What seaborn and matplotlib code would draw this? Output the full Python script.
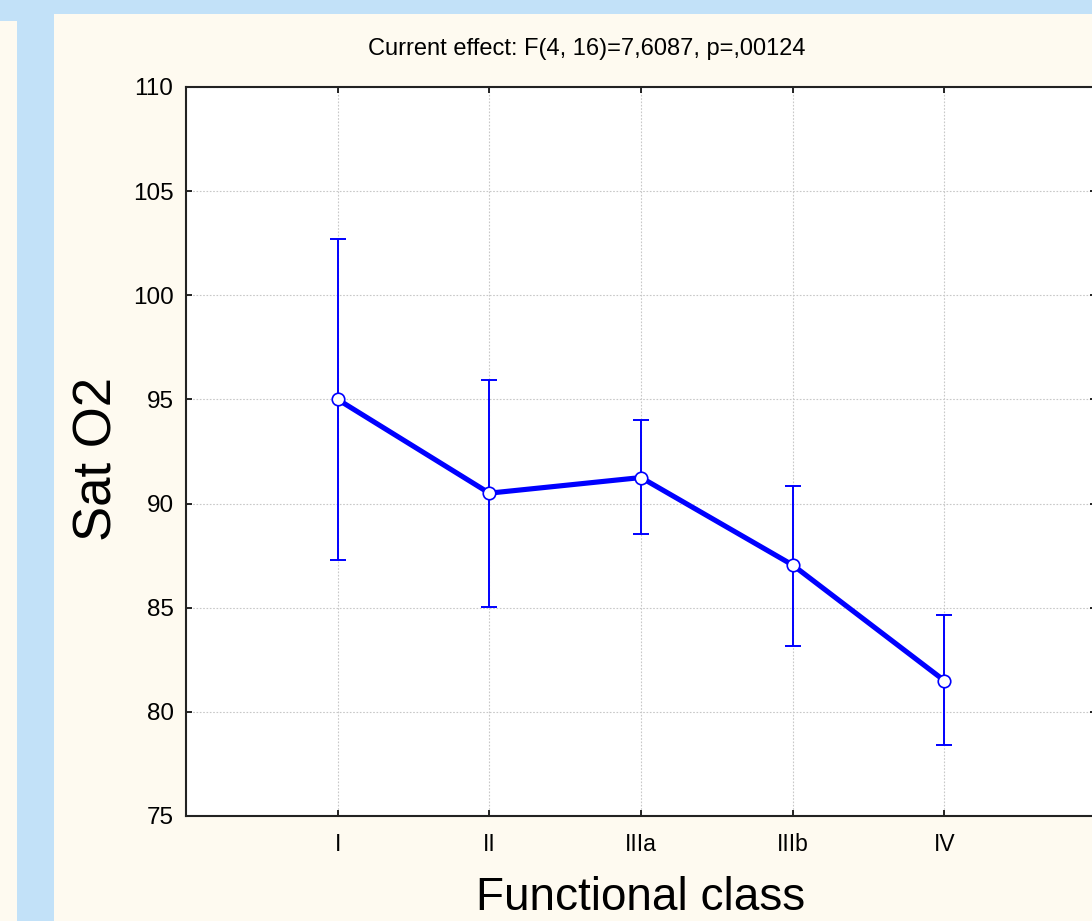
import matplotlib
matplotlib.use('Agg')
import matplotlib.pyplot as plt
import seaborn as sns
import numpy as np
import pandas as pd
from matplotlib.patches import Rectangle

# ---- data ----
classes = ['I', 'II', 'IIIa', 'IIIb', 'IV']
means = [95.0, 90.5, 91.25, 87.05, 81.5]
upper = [102.7, 95.95, 94.0, 90.85, 84.65]
lower = [87.3, 85.05, 88.55, 83.15, 78.4]
yticks = [75, 80, 85, 90, 95, 100, 105, 110]
title = 'Current effect: F(4, 16)=7,6087, p=,00124'
xlabel = 'Functional class'
ylabel = 'Sat O2'

sns.set_theme(style='white')
plt.rcParams['font.family'] = ['Liberation Sans', 'DejaVu Sans']
plt.rcParams['text.color'] = 'black'
plt.rcParams['axes.labelcolor'] = 'black'

W, H = 1092, 921
fig = plt.figure(figsize=(W / 100, H / 100), dpi=100, facecolor='#c2e1f8')
cream = '#fefaf0'
fig.patches.append(Rectangle((54 / W, 0), 1.0, (H - 14) / H, transform=fig.transFigure,
                             facecolor=cream, edgecolor='none', zorder=-5))
fig.patches.append(Rectangle((0, 0), 17 / W, (H - 21) / H, transform=fig.transFigure,
                             facecolor=cream, edgecolor='none', zorder=-5))

ax = fig.add_axes([186 / W, 105 / H, 910 / W, 729 / H])
ax.set_facecolor('white')
ax.set_axisbelow(True)

df = pd.DataFrame({'cls': classes, 'pos': np.arange(len(classes)), 'mean': means,
                   'lo': lower, 'hi': upper})
blue = '#0000ff'
ax.errorbar(df['pos'], df['mean'], yerr=[df['mean'] - df['lo'], df['hi'] - df['mean']],
            fmt='none', ecolor=blue, elinewidth=1.4, capsize=6, capthick=1.4, zorder=3)
sns.lineplot(data=df, x='pos', y='mean', color=blue, linewidth=3.7, marker='o',
             markersize=9, markerfacecolor='white', markeredgecolor=blue,
             markeredgewidth=1.2, ax=ax, zorder=4)

ax.set_xlim(-1, 5)
ax.set_ylim(75, 110)
ax.set_xticks(df['pos'])
ax.set_xticklabels(classes)
ax.set_yticks(yticks)
ax.grid(True, linestyle=(0, (1.5, 1.5)), color='#c8c8c8', linewidth=0.8)
ax.tick_params(direction='in', length=4, width=1.2, top=True, right=True,
               bottom=True, left=True, colors='black', labelcolor='black')
ax.tick_params(axis='y', labelsize=17.5, pad=9)
ax.tick_params(axis='x', labelsize=16.5, pad=12)
for s in ax.spines.values():
    s.set_color('#222222')
    s.set_linewidth(1.5)

ax.set_xlabel(xlabel, fontsize=33, va='baseline', color='black')
ax.xaxis.set_label_coords(0.5, -(910 - 816) / 729)
ax.set_ylabel(ylabel, fontsize=38, color='black')
ax.yaxis.set_label_coords(-0.07, 0.49)

ax.text(0.44, 1.052, title, transform=ax.transAxes, ha='center', va='center',
        fontsize=17, color='black')

fig.savefig('out.png', dpi=100, facecolor=fig.get_facecolor())
